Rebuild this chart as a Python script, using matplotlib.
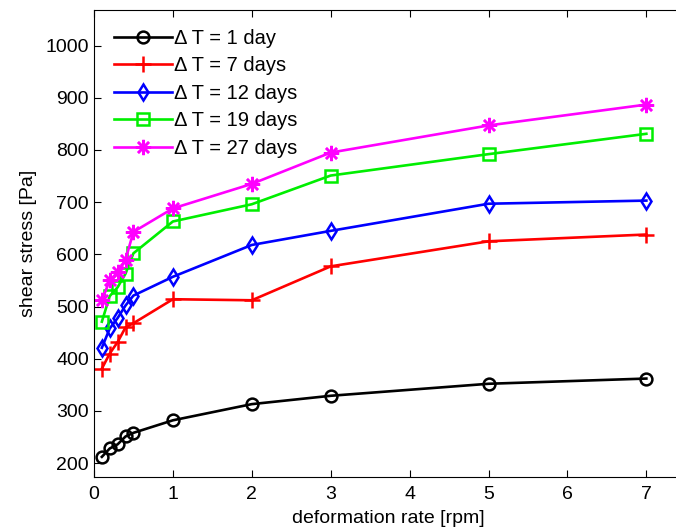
"""
Shear stress versus deformation rate for five waiting times (Delta T).
"""
import matplotlib
matplotlib.use('Agg')
import matplotlib.pyplot as plt

plt.rcParams['font.family'] = ['Liberation Sans', 'DejaVu Sans']

rate = [0.1, 0.2, 0.3, 0.4, 0.5, 1, 2, 3, 5, 7]  # rpm

stress_1day = [212, 228, 236, 251, 258, 282, 313, 329, 352, 362]
stress_7days = [381, 410, 432, 460, 468, 514, 512, 577, 625, 638]
stress_12days = [421, 458, 478, 502, 521, 557, 618, 645, 697, 703]
stress_19days = [471, 520, 537, 563, 602, 663, 696, 751, 792, 831]
stress_27days = [512, 550, 566, 590, 643, 688, 735, 795, 847, 887]

labels = ['\u0394 T = 1 day', '\u0394 T = 7 days', '\u0394 T = 12 days',
          '\u0394 T = 19 days', '\u0394 T = 27 days']
colors = ['black', '#ff0000', '#0000ff', '#00ee00', '#ff00ff']
markers = ['o', '+', 'd', 's', (8, 2, 0)]  # last one: matlab-style asterisk

fig = plt.figure(figsize=(6.76, 5.32), dpi=100)
# right edge sits just past the figure, like the cropped original
ax = fig.add_axes([0.139, 0.104, 0.872, 0.877])

series = [stress_1day, stress_7days, stress_12days, stress_19days, stress_27days]
for values, label, color, marker in zip(series, labels, colors, markers):
    msize = 11 if marker in ('+', (8, 2, 0)) else 8.5
    ax.plot(rate, values, color=color, marker=marker, markersize=msize,
            markerfacecolor='none', markeredgewidth=1.8, linewidth=1.9,
            label=label)

ax.set_xlim(0, 7.47)
ax.set_ylim(174, 1068)
ax.set_xticks(range(0, 8))
ax.set_yticks(range(200, 1001, 100))
ax.tick_params(direction='in', top=True, right=True, length=5,
               labelsize=14, width=0.8)
ax.tick_params(axis='x', pad=7)
for spine in ax.spines.values():
    spine.set_linewidth(0.8)

ax.set_xlabel('deformation rate [rpm]', fontsize=14, labelpad=5)
ax.set_ylabel('shear stress [Pa]', fontsize=14, labelpad=6)

ax.legend(loc='upper left', frameon=False, fontsize=14.5, handlelength=2.9,
          handletextpad=0.1, labelspacing=0.42, borderaxespad=0.3,
          bbox_to_anchor=(0.01, 0.99))

fig.savefig('out.png', dpi=100)
